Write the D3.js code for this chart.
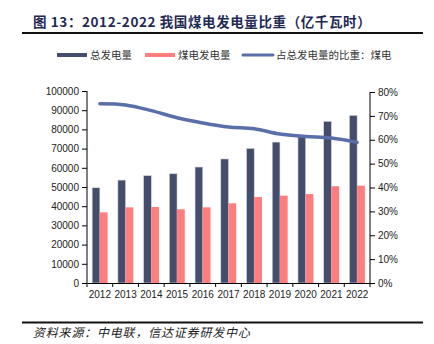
<!DOCTYPE html>
<html>
<head>
<meta charset="utf-8">
<script src="https://cdn.jsdelivr.net/npm/d3@7"></script>
<style>
  body { margin: 0; background: #fff; }
  svg { display: block; }
  text { font-family: "Liberation Sans", Arial, sans-serif; }
  .cjk { font-family: "Noto Sans CJK SC", sans-serif; }
</style>
</head>
<body>
<div id="chart"></div>
<script>
// 数据
let years = ["2012", "2013", "2014", "2015", "2016", "2017", "2018", "2019", "2020", "2021", "2022"];
let totalGen = [49600, 53600, 55900, 56900, 60400, 64600, 70100, 73400, 76200, 84200, 87300];
let coalGen = [36800, 39400, 39600, 38400, 39400, 41500, 44800, 45500, 46300, 50400, 50700];
let coalShare = [75.1, 74.6, 72.2, 69.2, 67.0, 65.3, 64.6, 62.4, 61.4, 60.7, 58.9];
let leftTicks = [0, 10000, 20000, 30000, 40000, 50000, 60000, 70000, 80000, 90000, 100000];
let rightTicks = [0, 10, 20, 30, 40, 50, 60, 70, 80];
let seriesNames = ["总发电量", "煤电发电量", "占总发电量的比重：煤电"];

let width = 434, height = 344;
let margin = {left: 87, right: 64, top: 92, bottom: 61};

let svg = d3.select("#chart").append("svg")
    .attr("width", width)
    .attr("height", height);

// 标题
svg.append("text")
    .attr("class", "cjk")
    .attr("x", 33)
    .attr("y", 27)
    .attr("fill", "#1f2b55")
    .attr("font-size", 13.5)
    .attr("font-weight", "bold")
    .attr("letter-spacing", 0.6)
    .text("图 13：2012-2022 我国煤电发电量比重（亿千瓦时）");

svg.append("line")
    .attr("x1", 22).attr("x2", 423)
    .attr("y1", 33).attr("y2", 33)
    .attr("stroke", "#111").attr("stroke-width", 2);

let x = d3.scaleBand()
    .domain(years)
    .range([margin.left, width - margin.right]);

let x1 = d3.scaleBand()
    .domain(["total", "coal"])
    .range([x.bandwidth() * 0.2, x.bandwidth() * 0.8]);

let y = d3.scaleLinear()
    .domain([0, 100000])
    .range([height - margin.bottom, margin.top - 1]);

let y2 = d3.scaleLinear()
    .domain([0, 80])
    .range([height - margin.bottom, margin.top]);

let colors = ["#444d6c", "#ff7d7d", "#5a6ea9"];

// 柱子
let g = svg.append("g");
years.forEach(function (yr, i) {
    g.append("rect")
        .attr("x", x(yr) + x1("total"))
        .attr("y", y(totalGen[i]))
        .attr("width", x1.bandwidth())
        .attr("height", y(0) - y(totalGen[i]))
        .attr("fill", colors[0])
        .attr("stroke", "#d4d7e0")
        .attr("stroke-width", 0.6);
    g.append("rect")
        .attr("x", x(yr) + x1("coal"))
        .attr("y", y(coalGen[i]))
        .attr("width", x1.bandwidth())
        .attr("height", y(0) - y(coalGen[i]))
        .attr("fill", colors[1]);
});

// 折线
let line = d3.line()
    .x(function (d, i) { return x(years[i]) + x.bandwidth() / 2; })
    .y(function (d) { return y2(d); })
    .curve(d3.curveCatmullRom.alpha(0.5));

svg.append("path")
    .datum(coalShare)
    .attr("d", line)
    .attr("fill", "none")
    .attr("stroke", colors[2])
    .attr("stroke-width", 3.5)
    .attr("stroke-linecap", "round");

// 坐标轴
let leftAxis = svg.append("g")
    .attr("transform", "translate(" + margin.left + ",0)")
    .call(d3.axisLeft(y).tickValues(leftTicks).tickSize(5).tickPadding(3).tickFormat(d3.format("d")));

let rightAxis = svg.append("g")
    .attr("transform", "translate(" + (width - margin.right) + ",0)")
    .call(d3.axisRight(y2).tickValues(rightTicks).tickSize(5).tickPadding(3).tickFormat(function (d) { return d + "%"; }));

let bottomAxis = svg.append("g")
    .attr("transform", "translate(0," + (height - margin.bottom) + ")")
    .call(d3.axisBottom(x).tickSize(0).tickPadding(8));

bottomAxis.selectAll(".tick")
    .append("line")
    .attr("x1", -x.step() / 2).attr("x2", -x.step() / 2)
    .attr("y1", 0).attr("y2", 4)
    .attr("stroke", "#000");
bottomAxis.append("line")
    .attr("x1", width - margin.right).attr("x2", width - margin.right)
    .attr("y1", 0).attr("y2", 4)
    .attr("stroke", "#000");

[leftAxis, rightAxis, bottomAxis].forEach(function (a) {
    a.select(".domain").attr("stroke", "#000");
    a.selectAll(".tick text")
        .attr("font-family", "Liberation Sans, Arial, sans-serif")
        .attr("font-size", 10)
        .attr("fill", "#222");
});
leftAxis.selectAll(".domain").attr("d", "M0," + y(0) + "V" + y(100000));
rightAxis.selectAll(".domain").attr("d", "M0," + y2(0) + "V" + y2(80));

// 图例
let legendX = [57, 145, 243];
seriesNames.forEach(function (name, i) {
    svg.append("line")
        .attr("x1", legendX[i]).attr("x2", legendX[i] + 30)
        .attr("y1", 55).attr("y2", 55)
        .attr("stroke", colors[i])
        .attr("stroke-width", i == 2 ? 3 : 4)
        .attr("stroke-linecap", i == 2 ? "round" : "butt");
    svg.append("text")
        .attr("class", "cjk")
        .attr("x", legendX[i] + 33)
        .attr("y", 59)
        .attr("font-size", 10.5)
        .attr("fill", "#333")
        .text(name);
});

// 来源
svg.append("line")
    .attr("x1", 22).attr("x2", 423)
    .attr("y1", 322.5).attr("y2", 322.5)
    .attr("stroke", "#111").attr("stroke-width", 2);

svg.append("text")
    .attr("class", "cjk")
    .attr("x", 33)
    .attr("y", 337)
    .attr("font-size", 12)
    .attr("font-style", "italic")
    .attr("letter-spacing", 0.8)
    .attr("fill", "#222")
    .text("资料来源：中电联，信达证券研发中心");
</script>
</body>
</html>
